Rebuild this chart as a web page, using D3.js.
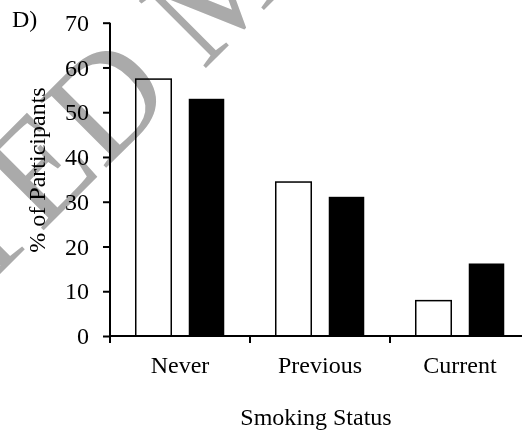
<!DOCTYPE html>
<html>
<head>
<meta charset="utf-8">
<script src="https://cdn.jsdelivr.net/npm/d3@7"></script>
<style>
  html, body { margin: 0; padding: 0; background: #fff; }
  svg { display: block; }
  text { font-family: "Liberation Serif", "Times New Roman", serif; }
</style>
</head>
<body>
<svg id="chart" width="522" height="436"></svg>
<script>
// ---- data ----
const categories = ["Never", "Previous", "Current"];
const seriesNames = ["Group 1", "Group 2"];
const seriesOpen = [57.4, 34.4, 7.9];   // white bars
const seriesFilled = [53.0, 31.1, 16.2]; // black bars
const yTicks = [0, 10, 20, 30, 40, 50, 60, 70];
const panelLabel = "D)";
const yTitle = "% of Participants";
const xTitle = "Smoking Status";
const watermarkText = "ACCEPTED MANUSCRIPT";

const svg = d3.select("#chart");
const pL = 110, pR = 530, pT = 22.7, pB = 336;

const x = d3.scaleBand().domain(categories).range([pL, pR]).paddingInner(0).paddingOuter(0);
const xSub = d3.scaleBand().domain(seriesNames).range([0, x.bandwidth()]).paddingInner(0.33).paddingOuter(0.4857);
const y = d3.scaleLinear().domain([0, 70]).range([pB, pT]);

const rows = categories.map((c, i) => ({ cat: c, vals: [
  { s: seriesNames[0], v: seriesOpen[i], fill: "#ffffff" },
  { s: seriesNames[1], v: seriesFilled[i], fill: "#000000" }
]}));

// bars
const g = svg.append("g");
g.selectAll("g.grp").data(rows).join("g")
  .attr("transform", d => `translate(${x(d.cat)},0)`)
  .selectAll("rect").data(d => d.vals).join("rect")
  .attr("x", d => xSub(d.s))
  .attr("width", xSub.bandwidth())
  .attr("y", d => y(d.v))
  .attr("height", d => y(0) - y(d.v))
  .attr("fill", d => d.fill)
  .attr("stroke", d => d.fill === "#000000" ? "none" : "#000")
  .attr("stroke-width", 1.5);

// watermark (drawn with multiply so black stays black)
const wm = svg.append("g").style("mix-blend-mode", "multiply");
const wt = wm.append("text")
  .attr("font-size", 145)
  .attr("fill", "#aaaaaa")
  .text(watermarkText);
const mIdx = watermarkText.indexOf("M");
let mPos = { x: 0 };
try { mPos = wt.node().getStartPositionOfChar(mIdx); } catch (e) {}
wt.attr("x", -mPos.x).attr("y", 0)
  .attr("transform", "translate(203,71) rotate(-45)");

// y axis
const yAxis = d3.axisLeft(y).tickValues(yTicks).tickSize(7).tickPadding(14).tickFormat(d3.format("d"));
const ya = svg.append("g").attr("transform", `translate(${pL},0)`).call(yAxis);
ya.select(".domain").attr("stroke", "#000").attr("stroke-width", 2).attr("d", `M0,${pT}V${pB + 1}`);
ya.selectAll(".tick line").attr("stroke", "#000").attr("stroke-width", 2);
ya.selectAll(".tick text").attr("font-size", 24).attr("fill", "#000")
  .style("font-family", '"Liberation Serif", "Times New Roman", serif');

// x axis (labels at band centres, ticks at band boundaries)
const xAxis = d3.axisBottom(x).tickSize(0).tickPadding(0);
const xa = svg.append("g").attr("transform", `translate(0,${pB})`).call(xAxis);
xa.select(".domain").attr("stroke", "#000").attr("stroke-width", 2).attr("d", `M${pL - 1},0H${pR}`);
xa.selectAll(".tick text").attr("font-size", 24).attr("fill", "#000").attr("dy", null).attr("y", 37)
  .style("font-family", '"Liberation Serif", "Times New Roman", serif');
xa.selectAll("line.bound").data(categories.concat(["end"])).join("line")
  .attr("class", "bound")
  .attr("x1", (d, i) => pL + i * x.step()).attr("x2", (d, i) => pL + i * x.step())
  .attr("y1", 0).attr("y2", 7)
  .attr("stroke", "#000").attr("stroke-width", 2);

// titles
svg.append("text").attr("x", 12).attr("y", 27).attr("font-size", 24).text(panelLabel);
svg.append("text").attr("transform", "translate(45,170) rotate(-90)")
  .attr("text-anchor", "middle").attr("font-size", 24).text(yTitle);
svg.append("text").attr("x", (pL + 522) / 2).attr("y", 425)
  .attr("text-anchor", "middle").attr("font-size", 24).text(xTitle);
</script>
</body>
</html>
